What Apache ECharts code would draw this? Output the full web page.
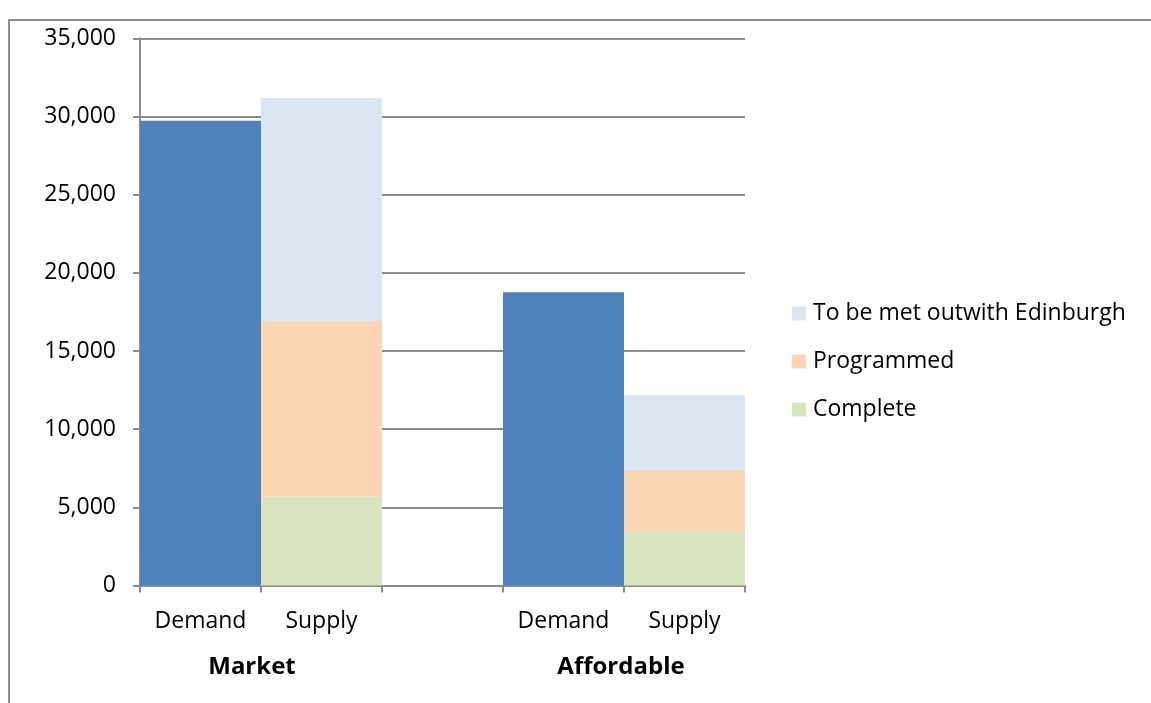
<!DOCTYPE html>
<html>
<head>
<meta charset="utf-8">
<script src="https://cdn.jsdelivr.net/npm/echarts@6/dist/echarts.min.js"></script>
<style>
  html, body { margin: 0; padding: 0; background: #fff; }
  #chart { width: 1151px; height: 703px; }
</style>
</head>
<body>
<div id="chart"></div>
<script>
// Housing demand vs supply, split into market and affordable tenure
const barCategories = ['Demand', 'Supply', '', 'Demand', 'Supply'];
const groupLabels = ['', 'Market', '', '', 'Affordable', ''];
const demand = [29730, '-', '-', 18750, '-'];
const complete = ['-', 5700, '-', '-', 3470];
const programmed = ['-', 11220, '-', '-', 3900];
const outwithEdinburgh = ['-', 14260, '-', '-', 4795];
const legendNames = ['To be met outwith Edinburgh', 'Programmed', 'Complete'];

const FONT = '"Open Sans", sans-serif';
const GRID_COLOR = '#8c8c8c';

const chart = echarts.init(document.getElementById('chart'), null, { renderer: 'canvas' });

function stackSeries(name, data, color) {
  return {
    name, type: 'bar', stack: 'all', data,
    barCategoryGap: '0%',
    itemStyle: { color },
    emphasis: { disabled: true }
  };
}

// group captions sit a little left of the group centre
const groupAxisData = groupLabels.map(label => {
  if (label === 'Market') return { value: label, textStyle: { padding: [0, 18, 0, 0] } };
  if (label === 'Affordable') return { value: label, textStyle: { padding: [0, 6, 0, 0] } };
  return label;
});

chart.setOption({
  animation: false,
  textStyle: { fontFamily: FONT },
  grid: { left: 140, right: 406, top: 38.3, bottom: 117.5, containLabel: false },
  legend: {
    orient: 'vertical',
    left: 792, top: 302, padding: 0,
    itemWidth: 14, itemHeight: 14, itemGap: 25,
    icon: 'rect',
    data: legendNames,
    textStyle: { fontFamily: FONT, fontSize: 23, color: '#000', padding: [0, 0, 0, 2] }
  },
  xAxis: [
    {
      type: 'category', data: barCategories,
      axisLine: { lineStyle: { color: GRID_COLOR, width: 2 } },
      axisTick: { show: true, length: 7, alignWithLabel: false, lineStyle: { color: GRID_COLOR, width: 2 } },
      axisLabel: { fontFamily: FONT, fontSize: 23, color: '#000', margin: 24 }
    },
    {
      type: 'category', data: groupAxisData, position: 'bottom', boundaryGap: false,
      axisLine: { show: false }, axisTick: { show: false },
      axisLabel: { fontFamily: FONT, fontSize: 24, fontWeight: 'bold', color: '#000', margin: 70, interval: 0 }
    }
  ],
  yAxis: {
    type: 'value', min: 0, max: 35000, interval: 5000,
    axisLine: { show: true, lineStyle: { color: GRID_COLOR, width: 2 } },
    axisTick: { show: true, length: 7, lineStyle: { color: GRID_COLOR, width: 2 } },
    splitLine: { lineStyle: { color: GRID_COLOR, width: 2 } },
    axisLabel: {
      fontFamily: FONT, fontSize: 23, color: '#000', margin: 24,
      formatter: v => v.toLocaleString('en-US')
    }
  },
  series: [
    stackSeries('Demand', demand, '#4f81bd'),
    stackSeries('Complete', complete, '#d7e4bd'),
    stackSeries('Programmed', programmed, '#fcd5b5'),
    stackSeries('To be met outwith Edinburgh', outwithEdinburgh, '#dce6f2')
  ],
  graphic: [
    {
      type: 'rect', silent: true, z: -1,
      shape: { x: 9, y: 20, width: 1300, height: 900 },
      style: { fill: 'none', stroke: '#8c8c8c', lineWidth: 2 }
    }
  ]
});
</script>
</body>
</html>
